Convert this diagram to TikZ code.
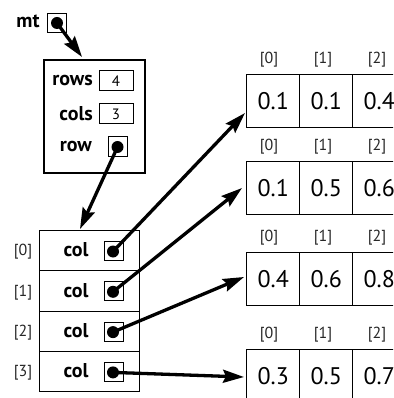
\documentclass[tikz,border=0pt]{standalone}
\usepackage{fontspec}
\setmainfont{PT Sans}
\usetikzlibrary{arrows.meta}
\begin{document}
\begin{tikzpicture}[x=1pt,y=-1pt,
  outer/.style={draw, line width=1.6pt, inner sep=0pt, anchor=north west},
  cell/.style={draw, line width=1.4pt, inner sep=0pt, anchor=north west, minimum width=53pt, minimum height=53pt, font=\fontsize{24}{24}\selectfont},
  colcell/.style={draw, line width=1.1pt, inner sep=0pt, anchor=north west, minimum width=100pt, minimum height=40.3pt},
  valbox/.style={draw, line width=1pt, inner sep=0pt, minimum width=34pt, minimum height=20pt, font=\fontsize{15}{15}\selectfont},
  ptrbox/.style={draw, line width=1pt, inner sep=0pt, minimum width=19pt, minimum height=19pt},
  dot/.style={circle, fill=black, inner sep=0pt, minimum size=12pt},
  lbl/.style={font=\bfseries\fontsize{20}{20}\selectfont, inner sep=0pt},
  idx/.style={font=\fontsize{16}{16}\selectfont, inner sep=0pt, text=black!85},
  ptr/.style={line width=3.3pt, -{Stealth[length=21pt,width=13pt,inset=3pt]}}]
\useasboundingbox (0,0) rectangle (393,398);
\clip (0,0) rectangle (393,398);

% mt
\node[lbl] (mtl) at (28,21) {mt};
\node[ptrbox] (mtb) at (57,23) {};
\node[dot] (mtd) at (57,23) {};

% struct
\node[outer, minimum width=101pt, minimum height=113pt] (st) at (43,59) {};
\node[lbl, anchor=east] (rowsl) at (93,81) {rows};
\node[valbox] (rowsv) at (116,81) {4};
\node[lbl, anchor=east] (colsl) at (93,114) {cols};
\node[valbox] (colsv) at (116,114) {3};
\node[lbl, anchor=east] (rowl) at (92,146) {row};
\node[ptrbox] (rowb) at (117.5,146.5) {};
\node[dot] (rowd) at (117.5,147) {};

% col array
\foreach \i/\y in {0/230,1/270.3,2/310.6,3/350.9}{
  \node[colcell] (c\i) at (39,\y) {};
  \node[lbl] (cl\i) at (76,\y+20) {col};
  \node[ptrbox] (cb\i) at (113.5,\y+21) {};
  \node[dot] (cd\i) at (113,\y+21.5) {};
  \node[idx] (ci\i) at (23,\y+22) {[\i]};
}

% right arrays
\foreach \r/\y/\a/\b/\c in {0/74/0.1/0.1/0.4, 1/161/0.1/0.5/0.6, 2/252/0.4/0.6/0.8, 3/349/0.3/0.5/0.7}{
  \node[cell] (r\r a) at (246,\y) {\a};
  \node[cell] (r\r b) at (299,\y) {\b};
  \node[cell] (r\r c) at (352,\y) {\c};
  \node[idx] (r\r ia) at (269,\y-14) {[0]};
  \node[idx] (r\r ib) at (323,\y-14) {[1]};
  \node[idx] (r\r ic) at (377,\y-14) {[2]};
}

% arrow tips
\coordinate (tst) at (82,57);
\coordinate (tcol) at (80,229);
\coordinate (t0) at (245,113);
\coordinate (t1) at (242,188);
\coordinate (t2) at (244,277);
\coordinate (t3) at (244,377);

\draw[ptr] (mtd.center) -- (tst);
\draw[ptr] (rowd.center) -- (tcol);
\draw[ptr] (cd0.center) -- (t0);
\draw[ptr] (cd1.center) -- (t1);
\draw[ptr] (cd2.center) -- (t2);
\draw[ptr] (cd3.center) -- (t3);
\end{tikzpicture}
\end{document}
